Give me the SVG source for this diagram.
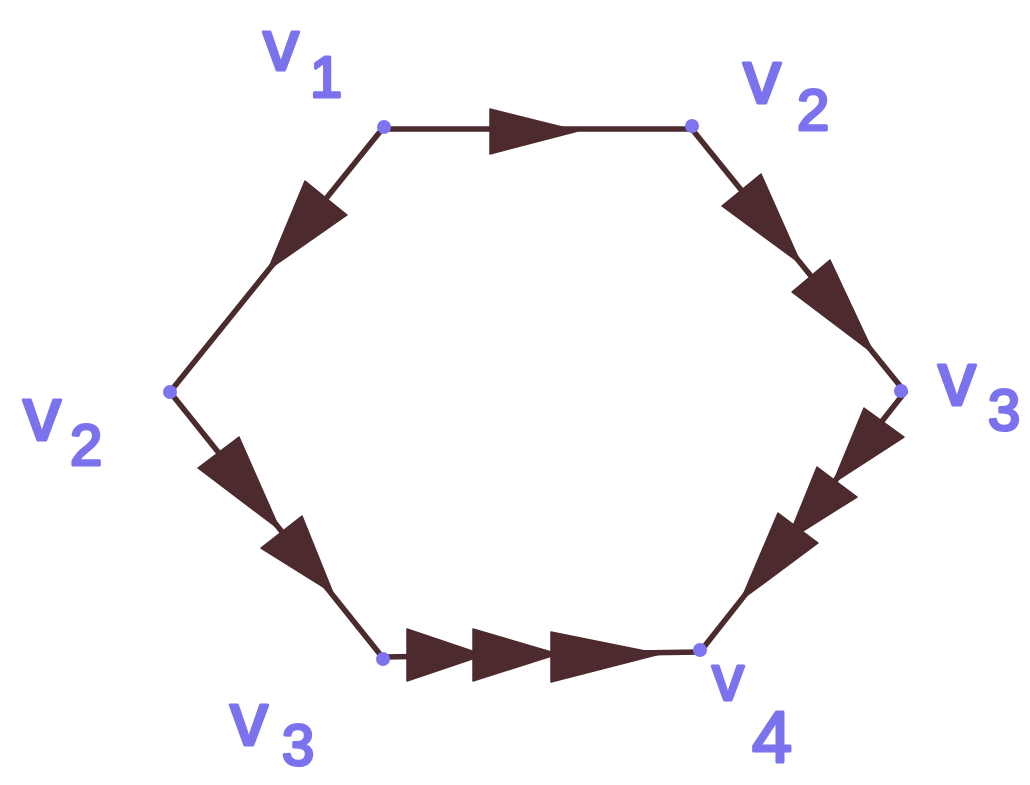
<svg xmlns="http://www.w3.org/2000/svg" width="1030" height="785" viewBox="0 0 1030 785">
<style>
.edge{stroke:#4b2b2e;stroke-width:5.5;stroke-linecap:round;fill:none}
.head{fill:#4d2a2d;stroke:#4d2a2d;stroke-width:1.5;stroke-linejoin:round}
.dot{fill:#7f74ef}
.lbl{font-family:"Liberation Sans","Open Sans",sans-serif;fill:#7b72ee;stroke:#7b72ee;stroke-width:3;stroke-linejoin:round}
.v{font-size:76px}
.d{font-size:58px}
</style>
<rect width="1030" height="785" fill="#ffffff"/>
<g id="connectors">
  <!-- v1 -> v2 (top) -->
  <line class="edge" x1="383" y1="129" x2="691" y2="129"/>
  <polygon class="head" points="490,109 490,154 578,131"/>
  <!-- v1 -> v2 (left) -->
  <line class="edge" x1="383" y1="128" x2="170" y2="392"/>
  <polygon class="head" points="347,215 305,181 268,270"/>
  <!-- v2 -> v3 (right upper) -->
  <line class="edge" x1="691" y1="128" x2="905" y2="392"/>
  <polygon class="head" points="722,206 761,174 801,264"/>
  <polygon class="head" points="792,292 830,260 874,354"/>
  <!-- v2 -> v3 (left lower) -->
  <line class="edge" x1="170" y1="392" x2="383" y2="658"/>
  <polygon class="head" points="198,468 239,437 280,530"/>
  <polygon class="head" points="261,548 302,516 333,593"/>
  <!-- v3 -> v4 (bottom) -->
  <line class="edge" x1="383" y1="657" x2="700" y2="652"/>
  <polygon class="head" points="407,629 407,681 484,655"/>
  <polygon class="head" points="473,629 473,681 558,654"/>
  <polygon class="head" points="551,632 551,682 660,654"/>
  <!-- v3 -> v4 (right lower) -->
  <line class="edge" x1="905" y1="392" x2="700" y2="652"/>
  <polygon class="head" points="864,408 904,437 833,483"/>
  <polygon class="head" points="817,467 857,497 787,541"/>
  <polygon class="head" points="778,513 818,543 741,600"/>
</g>
<g id="node-v1">
  <circle class="dot" cx="384" cy="127" r="7"/>
  <text class="lbl v" style="font-size:72px" x="263" y="70">v</text>
  <text class="lbl d" x="310" y="97">1</text>
</g>
<g id="node-v2-top">
  <circle class="dot" cx="692" cy="126" r="7"/>
  <text class="lbl v" x="743" y="103">v</text>
  <text class="lbl d" x="797" y="130">2</text>
</g>
<g id="node-v2-left">
  <circle class="dot" cx="170" cy="392" r="7"/>
  <text class="lbl v" x="23" y="440">v</text>
  <text class="lbl d" x="70" y="465">2</text>
</g>
<g id="node-v3-right">
  <circle class="dot" cx="901" cy="391" r="7"/>
  <text class="lbl v" x="938" y="405">v</text>
  <text class="lbl d" x="988" y="430">3</text>
</g>
<g id="node-v3-bottom">
  <circle class="dot" cx="383" cy="659" r="7"/>
  <text class="lbl v" x="230" y="745">v</text>
  <text class="lbl d" x="282" y="765">3</text>
</g>
<g id="node-v4">
  <circle class="dot" cx="700" cy="650" r="7"/>
  <text class="lbl" style="font-size:64px" x="712" y="700">v</text>
  <text class="lbl" style="font-size:72px" x="752" y="762">4</text>
</g>
</svg>
